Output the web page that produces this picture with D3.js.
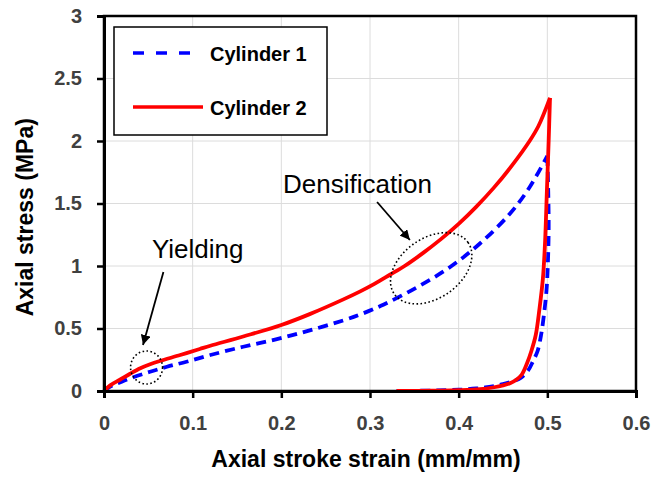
<!DOCTYPE html>
<html>
<head>
<meta charset="utf-8">
<script src="https://cdn.jsdelivr.net/npm/d3@7"></script>
<style>
  body { margin: 0; background: #fff; }
  svg { display: block; }
</style>
</head>
<body>
<div id="chart"></div>
<script>
// set the dimensions and margins of the graph
const margin = {top: 16, right: 19, bottom: 86, left: 104},
    width = 655 - margin.left - margin.right,
    height = 477 - margin.top - margin.bottom;

// tick values
const xTicks = [0, 0.1, 0.2, 0.3, 0.4, 0.5, 0.6]
const yTicks = [0, 0.5, 1, 1.5, 2, 2.5, 3]

// series names
const seriesNames = ["Cylinder 1", "Cylinder 2"]

// Cylinder 1 : [strain, stress]
const cyl1Load = [
  [0, 0], [0.007, 0.035], [0.02, 0.075], [0.033, 0.11], [0.052, 0.154],
  [0.071, 0.194], [0.093, 0.234], [0.12, 0.288], [0.157, 0.354], [0.195, 0.415],
  [0.232, 0.485], [0.27, 0.565], [0.289, 0.612], [0.315, 0.69], [0.353, 0.83],
  [0.39, 0.99], [0.424, 1.18], [0.458, 1.42], [0.48, 1.63], [0.5, 1.88]
]
const cyl1Unload = [
  [0.5, 1.88], [0.501, 1.6], [0.5015, 1.3], [0.5005, 1.0], [0.499, 0.8],
  [0.496, 0.6], [0.493, 0.45], [0.489, 0.32], [0.484, 0.24], [0.478, 0.16],
  [0.47, 0.105], [0.46, 0.075], [0.45, 0.055], [0.44, 0.04], [0.43, 0.028],
  [0.42, 0.02], [0.4, 0.01], [0.37, 0.004], [0.33, 0]
]

// Cylinder 2 : [strain, stress]
const cyl2Load = [
  [0, 0], [0.007, 0.045], [0.018, 0.09], [0.029, 0.136], [0.041, 0.182],
  [0.052, 0.214], [0.063, 0.24], [0.086, 0.288], [0.108, 0.336], [0.12, 0.362],
  [0.157, 0.436], [0.2, 0.528], [0.232, 0.615], [0.27, 0.733], [0.289, 0.797],
  [0.305, 0.857], [0.3225, 0.93], [0.339, 1.0], [0.36, 1.105], [0.38, 1.215],
  [0.4, 1.337], [0.42, 1.475], [0.44, 1.629], [0.46, 1.803], [0.48, 2.0],
  [0.49, 2.12], [0.503, 2.345]
]
const cyl2Unload = [
  [0.503, 2.345], [0.5015, 2.0], [0.4995, 1.6], [0.4975, 1.2], [0.495, 0.9],
  [0.491, 0.65], [0.487, 0.45], [0.482, 0.32], [0.477, 0.22], [0.471, 0.13],
  [0.465, 0.09], [0.458, 0.062], [0.45, 0.045], [0.44, 0.03], [0.424, 0.014],
  [0.4, 0.006], [0.37, 0.003], [0.33, 0]
]

// annotation anchors (data coordinates)
const yieldLabel = [0.054, 1.064]
const yieldArrow = [[0.067, 0.952], [0.044, 0.368]]
const yieldCircle = [0.048, 0.188]
const densLabel = [0.202, 1.584]
const densArrow = [[0.308, 1.512], [0.345, 1.208]]
const densCircle = [0.369, 0.982]

const svg = d3.select("#chart")
  .append("svg")
    .attr("width", width + margin.left + margin.right)
    .attr("height", height + margin.top + margin.bottom)
  .append("g")
    .attr("transform", `translate(${margin.left},${margin.top})`);

const x = d3.scaleLinear()
  .domain([0, 0.6])
  .range([0, width]);

const y = d3.scaleLinear()
  .domain([0, 3])
  .range([height, 0]);

// gridlines
svg.append("g")
  .selectAll("line")
  .data(xTicks.slice(1, -1))
  .join("line")
    .attr("x1", d => x(d)).attr("x2", d => x(d))
    .attr("y1", 0).attr("y2", height)
    .attr("stroke", "#dcdcdc").attr("stroke-width", 1);
svg.append("g")
  .selectAll("line")
  .data(yTicks.slice(1, -1))
  .join("line")
    .attr("x1", 0).attr("x2", width)
    .attr("y1", d => y(d)).attr("y2", d => y(d))
    .attr("stroke", "#dcdcdc").attr("stroke-width", 1);

// plot area border
svg.append("rect")
  .attr("x", 0).attr("y", 0)
  .attr("width", width).attr("height", height)
  .attr("fill", "none")
  .attr("stroke", "#000")
  .attr("stroke-width", 2.5);

// curves
const line = d3.line()
  .x(d => x(d[0]))
  .y(d => y(d[1]))
  .curve(d3.curveCatmullRom.alpha(0.5));

const dash = "10,6";
[cyl1Load, cyl1Unload].forEach(pts => {
  svg.append("path")
    .datum(pts)
    .attr("d", line)
    .attr("fill", "none")
    .attr("stroke", "#0000ff")
    .attr("stroke-width", 3.8)
    .attr("stroke-dasharray", dash);
});
[cyl2Load, cyl2Unload].forEach(pts => {
  svg.append("path")
    .datum(pts)
    .attr("d", line)
    .attr("fill", "none")
    .attr("stroke", "#ff0000")
    .attr("stroke-width", 3.8)
    .attr("stroke-linejoin", "round");
});

// axes
const xAxis = svg.append("g")
  .attr("transform", `translate(0, ${height})`)
  .call(d3.axisBottom(x).tickValues(xTicks).tickFormat(d3.format("")).tickSize(7).tickPadding(18));
const yAxis = svg.append("g")
  .call(d3.axisLeft(y).tickValues(yTicks).tickFormat(d3.format("")).tickSize(7).tickPadding(15));

[xAxis, yAxis].forEach(a => {
  a.select(".domain").attr("stroke", "#000").attr("stroke-width", 3);
  a.selectAll(".tick line").attr("stroke", "#000").attr("stroke-width", 2.5);
  a.selectAll(".tick text")
    .attr("fill", "#404040")
    .style("font-family", "'Liberation Sans', Arial, sans-serif")
    .style("font-weight", "bold")
    .style("font-size", "20px");
});

// axis titles
svg.append("text")
  .attr("x", x(0.3) - 4)
  .attr("y", height + 76)
  .attr("text-anchor", "middle")
  .style("font-family", "'Liberation Sans', Arial, sans-serif")
  .style("font-weight", "bold")
  .style("font-size", "23px")
  .text("Axial stroke strain (mm/mm)");

svg.append("text")
  .attr("transform", `translate(${-71}, ${y(1.39)}) rotate(-90)`)
  .attr("text-anchor", "middle")
  .style("font-family", "'Liberation Sans', Arial, sans-serif")
  .style("font-weight", "bold")
  .style("font-size", "23px")
  .text("Axial stress (MPa)");

// annotations
svg.append("defs").append("marker")
  .attr("id", "head")
  .attr("viewBox", "0 0 10 10")
  .attr("refX", 10).attr("refY", 5)
  .attr("markerWidth", 10).attr("markerHeight", 10)
  .attr("markerUnits", "userSpaceOnUse")
  .attr("orient", "auto")
  .append("path")
    .attr("d", "M0,0 L10,5 L0,10 Z")
    .attr("fill", "#000");

const annFont = "'Liberation Sans', Arial, sans-serif";

svg.append("text")
  .attr("x", x(yieldLabel[0])).attr("y", y(yieldLabel[1]))
  .style("font-family", annFont).style("font-size", "26px")
  .text("Yielding");
svg.append("text")
  .attr("x", x(densLabel[0])).attr("y", y(densLabel[1]))
  .style("font-family", annFont).style("font-size", "26px")
  .text("Densification");

[yieldArrow, densArrow].forEach(a => {
  svg.append("line")
    .attr("x1", x(a[0][0])).attr("y1", y(a[0][1]))
    .attr("x2", x(a[1][0])).attr("y2", y(a[1][1]))
    .attr("stroke", "#000")
    .attr("stroke-width", 1.8)
    .attr("marker-end", "url(#head)");
});

svg.append("ellipse")
  .attr("cx", x(yieldCircle[0])).attr("cy", y(yieldCircle[1]))
  .attr("rx", 16).attr("ry", 16.5)
  .attr("fill", "none").attr("stroke", "#000")
  .attr("stroke-width", 1.6).attr("stroke-dasharray", "1.6,2.4");

svg.append("ellipse")
  .attr("transform", `translate(${x(densCircle[0])},${y(densCircle[1])}) rotate(-35)`)
  .attr("rx", 45).attr("ry", 30)
  .attr("fill", "none").attr("stroke", "#000")
  .attr("stroke-width", 1.6).attr("stroke-dasharray", "1.6,2.4");

// legend
const legend = svg.append("g").attr("transform", "translate(10, 11)");
legend.append("rect")
  .attr("width", 213).attr("height", 108)
  .attr("fill", "#fff").attr("stroke", "#000").attr("stroke-width", 1.5);

const legendItems = [
  {name: seriesNames[0], color: "#0000ff", dash: "11,12", len: 60, ly: 26},
  {name: seriesNames[1], color: "#ff0000", dash: null, len: 70, ly: 80}
];
legend.selectAll("g.item")
  .data(legendItems)
  .join("g")
    .attr("class", "item")
    .each(function(d) {
      const g = d3.select(this);
      g.append("line")
        .attr("x1", 19).attr("x2", 19 + d.len)
        .attr("y1", d.ly).attr("y2", d.ly)
        .attr("stroke", d.color).attr("stroke-width", 3.5)
        .attr("stroke-dasharray", d.dash);
      g.append("text")
        .attr("x", 96).attr("y", d.ly + 8)
        .style("font-family", annFont)
        .style("font-weight", "bold")
        .style("font-size", "20px")
        .text(d.name);
    });
</script>
</body>
</html>
